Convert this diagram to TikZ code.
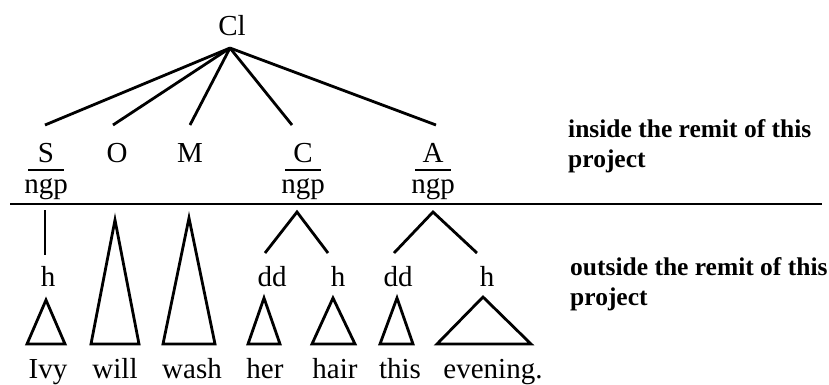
\documentclass[tikz,border=0pt]{standalone}
\usepackage{fontspec}
\setmainfont{Liberation Serif}
\begin{document}
\begin{tikzpicture}[x=1pt,y=-1pt,
  lab/.style={font=\fontsize{29}{29}\selectfont, inner sep=0pt, anchor=base},
  note/.style={font=\fontsize{25.5}{30}\selectfont\bfseries, inner sep=0pt, anchor=base west},
  br/.style={line width=2.8pt, line join=miter},
  rule/.style={line width=2.2pt}]
\useasboundingbox[fill=white] (0,0) rectangle (829,384);
% labels
\node[lab] (Cl) at (232,35) {Cl};
\node[lab] (S) at (46,162) {S};
\node[lab] (O) at (117,162) {O};
\node[lab] (M) at (190,162) {M};
\node[lab] (C) at (303,162) {C};
\node[lab] (A) at (433,162) {A};
\node[lab] (Sn) at (46,193) {ngp};
\node[lab] (Cn) at (303,193) {ngp};
\node[lab] (An) at (433,193) {ngp};
\node[lab] (hS) at (48,286) {h};
\node[lab] (ddC) at (272,286) {dd};
\node[lab] (hC) at (338,286) {h};
\node[lab] (ddA) at (398,286) {dd};
\node[lab] (hA) at (487,286) {h};
\node[lab] (w1) at (48,378) {Ivy};
\node[lab] (w2) at (115,378) {will};
\node[lab] (w3) at (192,378) {wash};
\node[lab] (w4) at (265,378) {her};
\node[lab] (w5) at (335,378) {hair};
\node[lab] (w6) at (400,378) {this};
\node[lab] (w7) at (493,378) {evening.};
\node[note] (n1) at (568,137) {inside the remit of this};
\node[note] (n2) at (568,167) {project};
\node[note] (n3) at (570,275) {outside the remit of this};
\node[note] (n4) at (570,305) {project};
% coordinates
\coordinate (clb) at (230,48);
\coordinate (st) at (45,125);
\coordinate (ot) at (113,125);
\coordinate (mt) at (190,125);
\coordinate (ct) at (292,125);
\coordinate (at) at (436,125);
% clause branches
\foreach \t in {st,ot,mt,ct,at} \draw[br] (clb) -- (\t);
% underlines
\draw[line width=1.8pt] (28,170) -- (64,170);
\draw[line width=1.8pt] (285,170) -- (321,170);
\draw[line width=1.8pt] (415,170) -- (451,170);
% boundary
\draw[rule] (10,204) -- (822,204);
% S to h
\coordinate (sv1) at (45,210);
\coordinate (sv2) at (45,255);
\draw[line width=1.8pt] (sv1) -- (sv2);
% C branches
\coordinate (cA) at (297,212);
\coordinate (cL) at (265,253);
\coordinate (cR) at (328,253);
\draw[br] (cL) -- (cA) -- (cR);
% A branches
\coordinate (aA) at (433,212);
\coordinate (aL) at (394,253);
\coordinate (aR) at (477,253);
\draw[br] (aL) -- (aA) -- (aR);
% triangles
\draw[br] (46,300) -- (65,344) -- (27,344) -- cycle;
\draw[br] (115,220) -- (139,344) -- (91,344) -- cycle;
\draw[br] (189,218) -- (215,344) -- (163,344) -- cycle;
\draw[br] (264,298) -- (280,344) -- (248,344) -- cycle;
\draw[br] (333,298) -- (355,344) -- (312,344) -- cycle;
\draw[br] (397,298) -- (413,344) -- (380,344) -- cycle;
\draw[br] (483,297) -- (531,344) -- (437,344) -- cycle;
\end{tikzpicture}
\end{document}
